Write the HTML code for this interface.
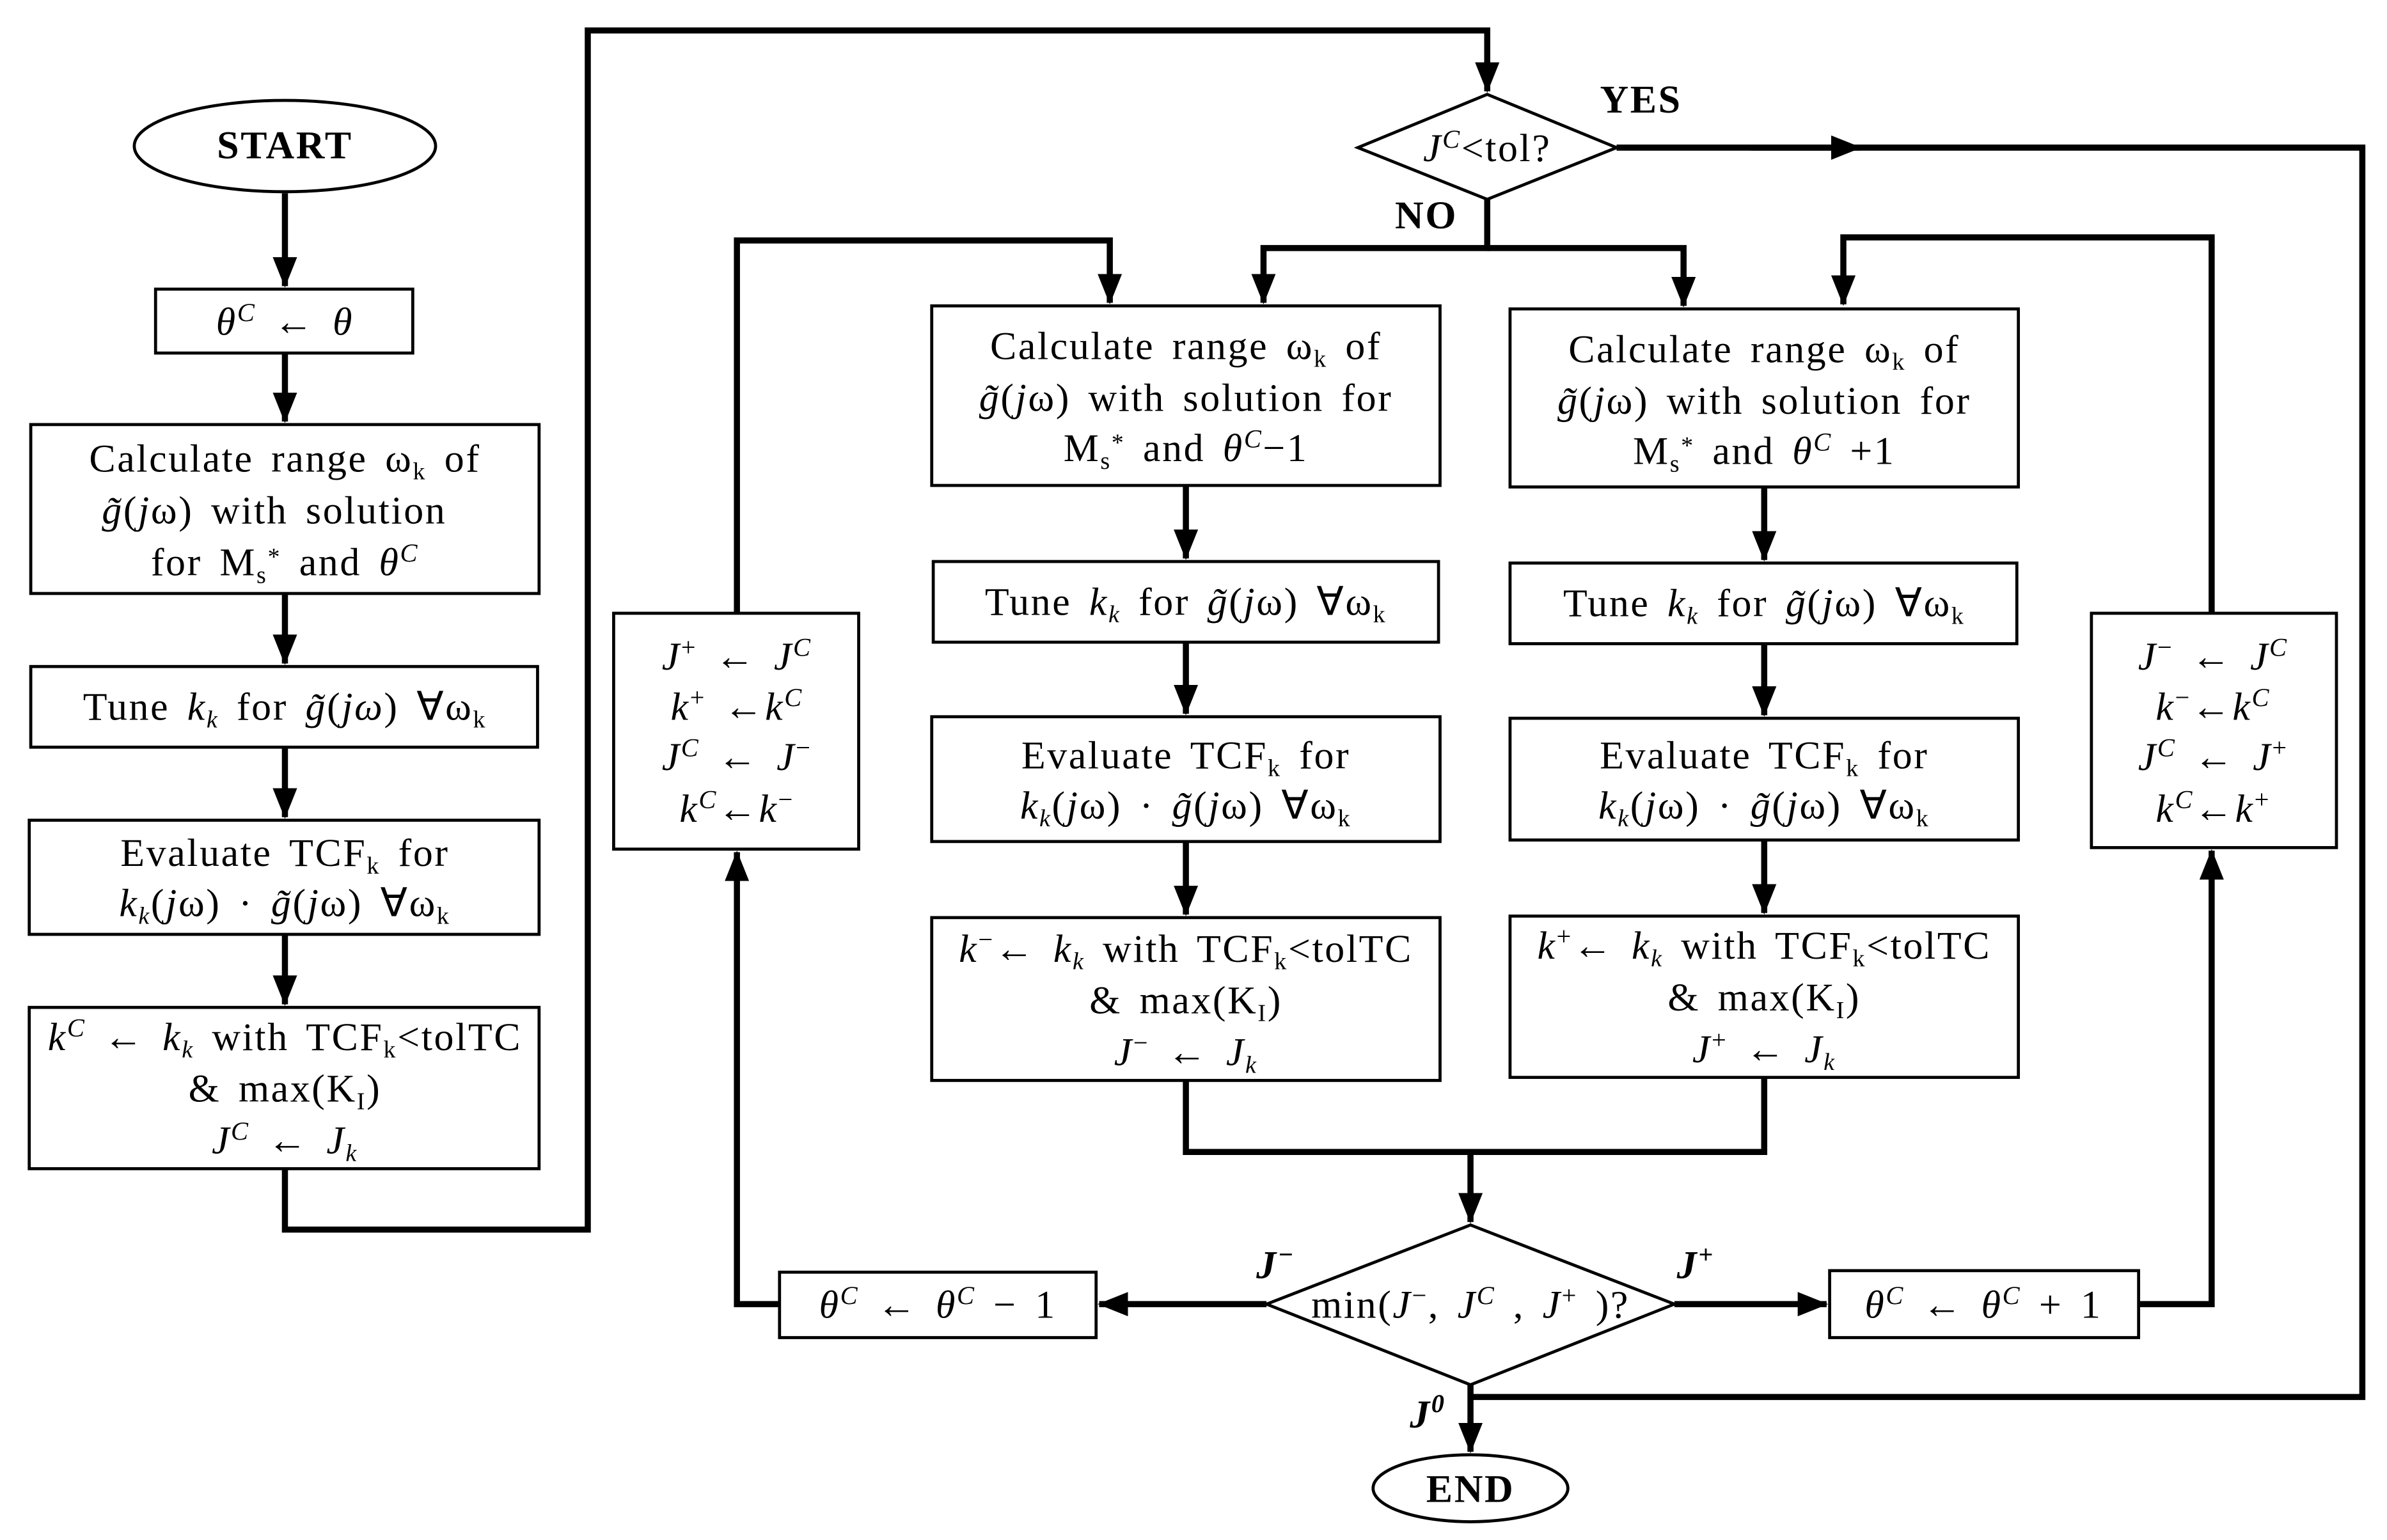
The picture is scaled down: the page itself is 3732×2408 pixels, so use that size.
<!DOCTYPE html>
<html><head><meta charset="utf-8"><style>
html,body{margin:0;padding:0;background:#fff;}
svg{display:block;}
text{font-family:"Liberation Serif",serif;font-size:26px;fill:#000;letter-spacing:1.1px;word-spacing:4px;}
.b{font-weight:bold;}
.i{font-style:italic;}
</style></head><body>
<svg width="3732" height="2408" viewBox="0 0 1568 1012" xmlns="http://www.w3.org/2000/svg">
<defs>
<marker id="A" markerWidth="20" markerHeight="16" refX="19" refY="8" orient="auto" markerUnits="userSpaceOnUse" viewBox="0 0 20 16"><path d="M0,0 L20,8 L0,16 z" fill="#000"/></marker></defs>
<g fill="none" stroke="#000" stroke-width="2">
<ellipse cx="187" cy="96" rx="99" ry="30"/>
<rect x="102" y="190" width="169" height="42"/>
<rect x="20" y="279" width="334" height="111"/>
<rect x="20" y="438" width="333" height="53"/>
<rect x="19" y="539" width="335" height="75"/>
<rect x="19" y="662" width="335" height="106"/>
<polygon points="892,97 977,62 1062,97 977,131"/>
<rect x="612" y="201" width="334" height="118"/>
<rect x="992" y="203" width="334" height="117"/>
<rect x="613" y="369" width="332" height="53"/>
<rect x="992" y="370" width="333" height="53"/>
<rect x="612" y="471" width="334" height="82"/>
<rect x="992" y="472" width="334" height="80"/>
<rect x="612" y="603" width="334" height="107"/>
<rect x="992" y="602" width="334" height="106"/>
<polygon points="832,857 966,805 1100,857 966,910"/>
<rect x="512" y="836" width="208" height="43"/>
<rect x="1202" y="835" width="203" height="44"/>
<rect x="403" y="403" width="161" height="155"/>
<rect x="1374" y="403" width="161" height="154"/>
<ellipse cx="966" cy="978" rx="64" ry="22"/>
</g>
<g fill="none" stroke="#000" stroke-width="4">
<path d="M187,127 V188" marker-end="url(#A)"/>
<path d="M187,232 V277" marker-end="url(#A)"/>
<path d="M187,390 V436" marker-end="url(#A)"/>
<path d="M187,491 V537" marker-end="url(#A)"/>
<path d="M187,614 V660" marker-end="url(#A)"/>
<path d="M187,768 V808 H386 V20 H977 V60" marker-end="url(#A)"/>
<path d="M1062,97 H1552 V918 H966"/>
<path d="M1150,97 H1222" marker-end="url(#A)"/>
<path d="M977,131 V163 H830 V199" marker-end="url(#A)"/>
<path d="M977,163 H1106 V201" marker-end="url(#A)"/>
<path d="M779,319 V367" marker-end="url(#A)"/>
<path d="M779,422 V469" marker-end="url(#A)"/>
<path d="M779,553 V601" marker-end="url(#A)"/>
<path d="M1159,320 V368" marker-end="url(#A)"/>
<path d="M1159,423 V470" marker-end="url(#A)"/>
<path d="M1159,552 V600" marker-end="url(#A)"/>
<path d="M779,710 V757 H1159 V708"/>
<path d="M966,757 V803" marker-end="url(#A)"/>
<path d="M832,857 H722" marker-end="url(#A)"/>
<path d="M512,857 H484 V560" marker-end="url(#A)"/>
<path d="M484,403 V158 H729 V199" marker-end="url(#A)"/>
<path d="M1100,857 H1200" marker-end="url(#A)"/>
<path d="M1405,857 H1453 V559" marker-end="url(#A)"/>
<path d="M1453,403 V156 H1211 V200" marker-end="url(#A)"/>
<path d="M966,910 V954" marker-end="url(#A)"/>
</g>
<g text-anchor="middle">
<text x="187" y="104" class="b">START</text>
<text x="187" y="220"><tspan class="i">θ</tspan><tspan dy="-9" font-size="17" class="i">C</tspan><tspan dy="9"> ← </tspan><tspan class="i">θ</tspan></text>
<text x="187" y="310">Calculate range ω<tspan dy="5" font-size="16">k</tspan><tspan dy="-5"> of</tspan></text>
<text x="180" y="344"><tspan class="i">g̃</tspan>(<tspan class="i">j</tspan>ω) with solution</text>
<text x="187" y="378">for M<tspan dy="5" font-size="16">s</tspan><tspan dy="-12" font-size="16">*</tspan><tspan dy="7"> and </tspan><tspan class="i">θ</tspan><tspan dy="-9" font-size="17" class="i">C</tspan></text>
<text x="187" y="473">Tune <tspan class="i">k</tspan><tspan dy="5" font-size="16" class="i">k</tspan><tspan dy="-5"> for </tspan><tspan class="i">g̃</tspan>(<tspan class="i">jω</tspan>) ∀ω<tspan dy="5" font-size="16">k</tspan></text>
<text x="187" y="569">Evaluate TCF<tspan dy="5" font-size="16">k</tspan><tspan dy="-5"> for</tspan></text>
<text x="187" y="602"><tspan class="i">k</tspan><tspan dy="5" font-size="16" class="i">k</tspan><tspan dy="-5">(<tspan class="i">j</tspan>ω) · </tspan><tspan class="i">g̃</tspan>(<tspan class="i">j</tspan>ω) ∀ω<tspan dy="5" font-size="16">k</tspan></text>
<text x="187" y="690"><tspan class="i">k</tspan><tspan dy="-9" font-size="17" class="i">C</tspan><tspan dy="9"> ← </tspan><tspan class="i">k</tspan><tspan dy="5" font-size="16" class="i">k</tspan><tspan dy="-5"> with TCF</tspan><tspan dy="5" font-size="16">k</tspan><tspan dy="-5">&lt;tolTC</tspan></text>
<text x="187" y="724">&amp; max(K<tspan dy="5" font-size="16">I</tspan><tspan dy="-5">)</tspan></text>
<text x="187" y="758"><tspan class="i">J</tspan><tspan dy="-9" font-size="17" class="i">C</tspan><tspan dy="9"> ← </tspan><tspan class="i">J</tspan><tspan dy="5" font-size="16" class="i">k</tspan></text>

<text x="977" y="106"><tspan class="i">J</tspan><tspan dy="-9" font-size="17" class="i">C</tspan><tspan dy="9">&lt;tol?</tspan></text>
<text x="1078" y="74" class="b" font-size="22">YES</text>
<text x="937" y="150" class="b" font-size="22">NO</text>

<text x="779" y="236">Calculate range ω<tspan dy="5" font-size="16">k</tspan><tspan dy="-5"> of</tspan></text>
<text x="779" y="270"><tspan class="i">g̃</tspan>(<tspan class="i">j</tspan>ω) with solution for</text>
<text x="779" y="303">M<tspan dy="5" font-size="16">s</tspan><tspan dy="-12" font-size="16">*</tspan><tspan dy="7"> and </tspan><tspan class="i">θ</tspan><tspan dy="-9" font-size="17" class="i">C</tspan><tspan dy="9">−1</tspan></text>
<text x="1159" y="238">Calculate range ω<tspan dy="5" font-size="16">k</tspan><tspan dy="-5"> of</tspan></text>
<text x="1159" y="272"><tspan class="i">g̃</tspan>(<tspan class="i">j</tspan>ω) with solution for</text>
<text x="1159" y="305">M<tspan dy="5" font-size="16">s</tspan><tspan dy="-12" font-size="16">*</tspan><tspan dy="7"> and </tspan><tspan class="i">θ</tspan><tspan dy="-9" font-size="17" class="i">C</tspan><tspan dy="9"> +1</tspan></text>

<text x="779" y="404">Tune <tspan class="i">k</tspan><tspan dy="5" font-size="16" class="i">k</tspan><tspan dy="-5"> for </tspan><tspan class="i">g̃</tspan>(<tspan class="i">j</tspan>ω) ∀ω<tspan dy="5" font-size="16">k</tspan></text>
<text x="1159" y="405">Tune <tspan class="i">k</tspan><tspan dy="5" font-size="16" class="i">k</tspan><tspan dy="-5"> for </tspan><tspan class="i">g̃</tspan>(<tspan class="i">j</tspan>ω) ∀ω<tspan dy="5" font-size="16">k</tspan></text>

<text x="779" y="505">Evaluate TCF<tspan dy="5" font-size="16">k</tspan><tspan dy="-5"> for</tspan></text>
<text x="779" y="538"><tspan class="i">k</tspan><tspan dy="5" font-size="16" class="i">k</tspan><tspan dy="-5">(<tspan class="i">j</tspan>ω) · </tspan><tspan class="i">g̃</tspan>(<tspan class="i">j</tspan>ω) ∀ω<tspan dy="5" font-size="16">k</tspan></text>
<text x="1159" y="505">Evaluate TCF<tspan dy="5" font-size="16">k</tspan><tspan dy="-5"> for</tspan></text>
<text x="1159" y="538"><tspan class="i">k</tspan><tspan dy="5" font-size="16" class="i">k</tspan><tspan dy="-5">(<tspan class="i">j</tspan>ω) · </tspan><tspan class="i">g̃</tspan>(<tspan class="i">j</tspan>ω) ∀ω<tspan dy="5" font-size="16">k</tspan></text>

<text x="779" y="632"><tspan class="i">k</tspan><tspan dy="-9" font-size="17">−</tspan><tspan dy="9">← </tspan><tspan class="i">k</tspan><tspan dy="5" font-size="16" class="i">k</tspan><tspan dy="-5"> with TCF</tspan><tspan dy="5" font-size="16">k</tspan><tspan dy="-5">&lt;tolTC</tspan></text>
<text x="779" y="666">&amp; max(K<tspan dy="5" font-size="16">I</tspan><tspan dy="-5">)</tspan></text>
<text x="779" y="700"><tspan class="i">J</tspan><tspan dy="-9" font-size="17">−</tspan><tspan dy="9"> ← </tspan><tspan class="i">J</tspan><tspan dy="5" font-size="16" class="i">k</tspan></text>
<text x="1159" y="630"><tspan class="i">k</tspan><tspan dy="-9" font-size="17">+</tspan><tspan dy="9">← </tspan><tspan class="i">k</tspan><tspan dy="5" font-size="16" class="i">k</tspan><tspan dy="-5"> with TCF</tspan><tspan dy="5" font-size="16">k</tspan><tspan dy="-5">&lt;tolTC</tspan></text>
<text x="1159" y="664">&amp; max(K<tspan dy="5" font-size="16">I</tspan><tspan dy="-5">)</tspan></text>
<text x="1159" y="698"><tspan class="i">J</tspan><tspan dy="-9" font-size="17">+</tspan><tspan dy="9"> ← </tspan><tspan class="i">J</tspan><tspan dy="5" font-size="16" class="i">k</tspan></text>

<text x="484" y="440"><tspan class="i">J</tspan><tspan dy="-9" font-size="17">+</tspan><tspan dy="9"> ← </tspan><tspan class="i">J</tspan><tspan dy="-9" font-size="17" class="i">C</tspan></text>
<text x="484" y="473"><tspan class="i">k</tspan><tspan dy="-9" font-size="17">+</tspan><tspan dy="9"> ←</tspan><tspan class="i">k</tspan><tspan dy="-9" font-size="17" class="i">C</tspan></text>
<text x="484" y="506"><tspan class="i">J</tspan><tspan dy="-9" font-size="17" class="i">C</tspan><tspan dy="9"> ← </tspan><tspan class="i">J</tspan><tspan dy="-9" font-size="17">−</tspan></text>
<text x="484" y="540"><tspan class="i">k</tspan><tspan dy="-9" font-size="17" class="i">C</tspan><tspan dy="9">←</tspan><tspan class="i">k</tspan><tspan dy="-9" font-size="17">−</tspan></text>
<text x="1454" y="440"><tspan class="i">J</tspan><tspan dy="-9" font-size="17">−</tspan><tspan dy="9"> ← </tspan><tspan class="i">J</tspan><tspan dy="-9" font-size="17" class="i">C</tspan></text>
<text x="1454" y="473"><tspan class="i">k</tspan><tspan dy="-9" font-size="17">−</tspan><tspan dy="9">←</tspan><tspan class="i">k</tspan><tspan dy="-9" font-size="17" class="i">C</tspan></text>
<text x="1454" y="506"><tspan class="i">J</tspan><tspan dy="-9" font-size="17" class="i">C</tspan><tspan dy="9"> ← </tspan><tspan class="i">J</tspan><tspan dy="-9" font-size="17">+</tspan></text>
<text x="1454" y="540"><tspan class="i">k</tspan><tspan dy="-9" font-size="17" class="i">C</tspan><tspan dy="9">←</tspan><tspan class="i">k</tspan><tspan dy="-9" font-size="17">+</tspan></text>

<text x="966" y="866">min(<tspan class="i">J</tspan><tspan dy="-9" font-size="17">−</tspan><tspan dy="9">, </tspan><tspan class="i">J</tspan><tspan dy="-9" font-size="17" class="i">C</tspan><tspan dy="9"> , </tspan><tspan class="i">J</tspan><tspan dy="-9" font-size="17">+</tspan><tspan dy="9"> )?</tspan></text>
<text x="616" y="866"><tspan class="i">θ</tspan><tspan dy="-9" font-size="17" class="i">C</tspan><tspan dy="9"> ← </tspan><tspan class="i">θ</tspan><tspan dy="-9" font-size="17" class="i">C</tspan><tspan dy="9"> − 1</tspan></text>
<text x="1303" y="866"><tspan class="i">θ</tspan><tspan dy="-9" font-size="17" class="i">C</tspan><tspan dy="9"> ← </tspan><tspan class="i">θ</tspan><tspan dy="-9" font-size="17" class="i">C</tspan><tspan dy="9"> + 1</tspan></text>
<text x="838" y="840" class="b i">J<tspan dy="-10" font-size="17">−</tspan></text>
<text x="1114" y="840" class="b i">J<tspan dy="-10" font-size="17">+</tspan></text>
<text x="938" y="938" class="b i">J<tspan dy="-10" font-size="17">0</tspan></text>
<text x="966" y="987" class="b">END</text>
</g>
</svg>
</body></html>
